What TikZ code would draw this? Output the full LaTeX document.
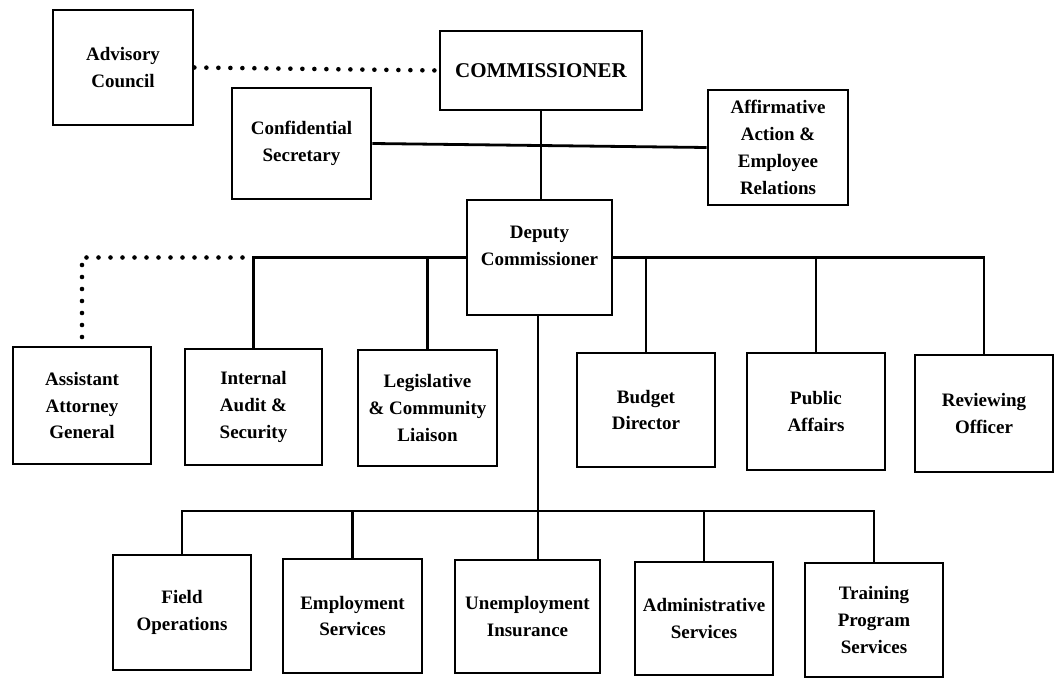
\documentclass[tikz,border=0pt]{standalone}
\usepackage{fontspec}
\setmainfont{Liberation Serif}
\usetikzlibrary{positioning}

\tikzset{
    unit/.style={draw, rectangle, line width=1.4pt, align=center, inner sep=0pt,
        font=\fontsize{9.5}{13.4}\selectfont\bfseries},
    link/.style={line width=1.4pt},
    dotline/.style={line width=2.3pt, line cap=round, dash pattern=on 0pt off 6pt}
}

\begin{document}
\begin{tikzpicture}[x=0.5pt, y=-0.5pt]
    \useasboundingbox (0,0) rectangle (1055,679);

    % Top
    \node[unit, minimum width=70pt, minimum height=57.5pt] (advisory) at (123,67.5) {Advisory\\Council};
    \node[unit, minimum width=101pt, minimum height=39.5pt, font=\fontsize{10.5}{13}\selectfont\bfseries] (comm) at (541,70.5) {COMMISSIONER};
    \node[unit, minimum width=69.5pt, minimum height=55.5pt] (confsec) at (301.5,143.5) {Confidential\\Secretary};
    \node[unit, minimum width=70pt, minimum height=57.5pt] (affirm) at (778,147.5) {Affirmative\\Action \&\\Employee\\Relations};
    \node[unit, minimum width=72.5pt, minimum height=57.5pt] (deputy) at (539.5,257.5) {Deputy\\Commissioner\\[-2pt]};

    % Middle row
    \node[unit, minimum width=69pt, minimum height=58.5pt] (assist) at (82,405.5) {Assistant\\Attorney\\General};
    \node[unit, minimum width=68.5pt, minimum height=58pt] (audit) at (253.5,407) {Internal\\Audit \&\\Security};
    \node[unit, minimum width=69.5pt, minimum height=58pt] (legis) at (427.5,408) {Legislative\\\& Community\\Liaison};
    \node[unit, minimum width=69pt, minimum height=57pt] (budget) at (646,410) {Budget\\Director};
    \node[unit, minimum width=69pt, minimum height=58.5pt] (public) at (816,411.5) {Public\\Affairs};
    \node[unit, minimum width=69pt, minimum height=58.5pt] (review) at (984,413.5) {Reviewing\\Officer};

    % Bottom row
    \node[unit, minimum width=69pt, minimum height=57.5pt] (field) at (182,612.5) {Field\\Operations};
    \node[unit, minimum width=69.5pt, minimum height=57pt] (employ) at (352.5,616) {Employment\\Services};
    \node[unit, minimum width=72.5pt, minimum height=56.5pt] (unemp) at (527.5,616.5) {Unemployment\\Insurance};
    \node[unit, minimum width=69pt, minimum height=56.5pt] (admin) at (704,618.5) {Administrative\\Services};
    \node[unit, minimum width=69pt, minimum height=57pt] (training) at (874,620) {Training\\Program\\Services};

    \coordinate (lowbus) at (538,511);
    \coordinate (attybend) at (82,337);

    % Lines
    \draw[dotline] (advisory.east) -- (comm.west);
    \draw[link] (confsec.east) -- (affirm.west);
    \draw[link] (comm.south) -- (comm.south |- deputy.north);
    \draw[dotline] (attybend) |- (audit.north |- deputy.west);
    \draw[link] (deputy.west) -| (audit.north);
    \draw[link] (legis.north) -- (legis.north |- deputy.west);
    \draw[link] (deputy.east) -| (review.north);
    \draw[link] (budget.north) -- (budget.north |- deputy.east);
    \draw[link] (public.north) -- (public.north |- deputy.east);
    \draw[link] (deputy.south -| lowbus) -- (lowbus |- unemp.north);
    \draw[link] (field.north) |- (lowbus) -| (training.north);
    \draw[link] (employ.north) -- (employ.north |- lowbus);
    \draw[link] (admin.north) -- (admin.north |- lowbus);
\end{tikzpicture}
\end{document}
